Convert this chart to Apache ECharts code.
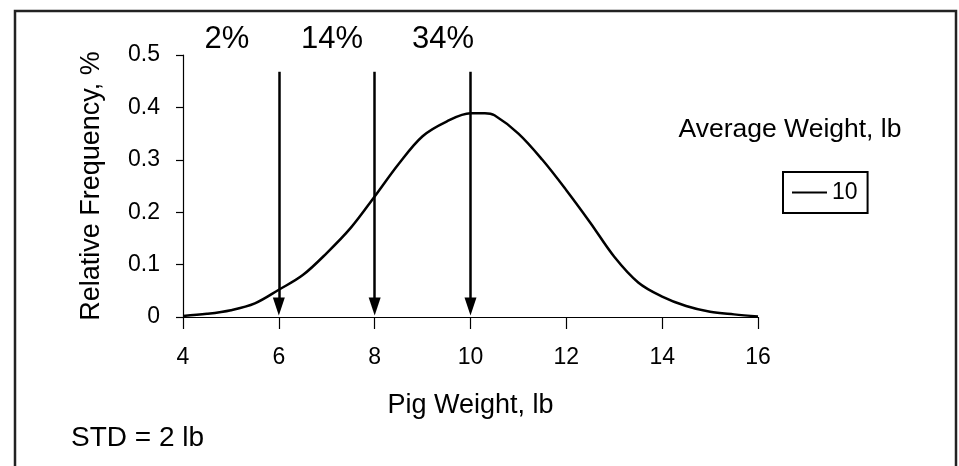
<!DOCTYPE html>
<html>
<head>
<meta charset="utf-8">
<script src="https://cdn.jsdelivr.net/npm/echarts@6/dist/echarts.min.js"></script>
<style>
html,body{margin:0;padding:0;background:#fff;}
#chart{width:959px;height:466px;}
</style>
</head>
<body>
<div id="chart"></div>
<script>
// ---- data ----
const weights = [4, 4.5, 5, 5.5, 6, 6.5, 7, 7.5, 8, 8.5, 9, 9.5, 10, 10.3, 10.5, 11, 11.5, 12, 12.5, 13, 13.5, 14, 14.5, 15, 15.5, 16];
const frequency = [0.002, 0.006, 0.013, 0.026, 0.052, 0.08, 0.122, 0.17, 0.23, 0.292, 0.345, 0.373, 0.389, 0.389, 0.385, 0.35, 0.3, 0.242, 0.18, 0.115, 0.066, 0.039, 0.021, 0.01, 0.005, 0.001];
const arrowX = [6, 8, 10];
const arrowTop = 0.468;
const arrowBottom = 0.02;
const percentLabels = ['2%', '14%', '34%'];
const seriesName = '10';
const xTitle = 'Pig Weight, lb';
const yTitle = 'Relative Frequency, %';
const legendTitle = 'Average Weight, lb';
const noteText = 'STD = 2 lb';

const FONT = '"Liberation Sans", Arial, Helvetica, sans-serif';
const chart = echarts.init(document.getElementById('chart'));

const percentPos = [[227, 39], [332, 39], [443, 39]];

const option = {
  backgroundColor: '#fff',
  animation: false,
  textStyle: { fontFamily: FONT, color: '#000' },
  grid: { left: 183, right: 201, top: 55, bottom: 149 },
  xAxis: {
    type: 'value', min: 4, max: 16, interval: 2,
    name: xTitle, nameLocation: 'middle', nameGap: 75,
    nameTextStyle: { fontFamily: FONT, fontSize: 27, color: '#000' },
    axisLine: { show: true, lineStyle: { color: '#000', width: 1.2 } },
    axisTick: { show: true, inside: false, length: 12, lineStyle: { color: '#000', width: 1.2 } },
    axisLabel: { fontFamily: FONT, fontSize: 23, color: '#000', margin: 29 },
    splitLine: { show: false }
  },
  yAxis: {
    type: 'value', min: 0, max: 0.5, interval: 0.1,
    name: yTitle, nameLocation: 'middle', nameGap: 78,
    nameTextStyle: { fontFamily: FONT, fontSize: 27, color: '#000' },
    axisLine: { show: true, lineStyle: { color: '#000', width: 1.2 } },
    axisTick: { show: true, inside: false, length: 7, lineStyle: { color: '#000', width: 1.2 } },
    axisLabel: { fontFamily: FONT, fontSize: 23, color: '#000', margin: 23 },
    splitLine: { show: false }
  },
  legend: {
    left: 783, top: 172,
    orient: 'vertical',
    data: [seriesName],
    borderColor: '#000', borderWidth: 2, borderRadius: 0,
    padding: [9, 10, 9, 9],
    itemWidth: 35, itemHeight: 20, itemGap: 0,
    icon: 'path://M0,9 L35,9 L35,11 L0,11 Z',
    itemStyle: { color: '#000' },
    textStyle: { fontFamily: FONT, fontSize: 23, color: '#000', padding: [3, 0, 0, 0] }
  },
  graphic: [
    ...percentLabels.map((t, i) => ({
      type: 'text', x: percentPos[i][0], y: percentPos[i][1],
      style: { text: t, font: '31px ' + FONT, fill: '#000', textAlign: 'center', textVerticalAlign: 'middle' }
    })),
    {
      type: 'text', x: 790, y: 130,
      style: { text: legendTitle, font: '26.5px ' + FONT, fill: '#000', textAlign: 'center', textVerticalAlign: 'middle' }
    },
    {
      type: 'text', x: 71, y: 438,
      style: { text: noteText, font: '28px ' + FONT, fill: '#000', textAlign: 'left', textVerticalAlign: 'middle' }
    },
    {
      type: 'rect', shape: { x: 15, y: 11, width: 941, height: 480 },
      style: { fill: 'none', stroke: '#222', lineWidth: 2.5 }, silent: true
    }
  ],
  series: [
    {
      name: seriesName,
      type: 'line',
      data: weights.map((w, i) => [w, frequency[i]]),
      smooth: 0.35,
      showSymbol: false,
      symbol: 'none',
      lineStyle: { color: '#000', width: 2.5 },
      itemStyle: { color: '#000' },
      markLine: {
        silent: true,
        symbol: ['none', 'triangle'],
        symbolSize: [12, 18],
        label: { show: false },
        lineStyle: { color: '#000', width: 2.5, type: 'solid' },
        data: arrowX.map(x => [{ coord: [x, arrowTop] }, { coord: [x, arrowBottom] }])
      }
    }
  ]
};
chart.setOption(option);
</script>
</body>
</html>
